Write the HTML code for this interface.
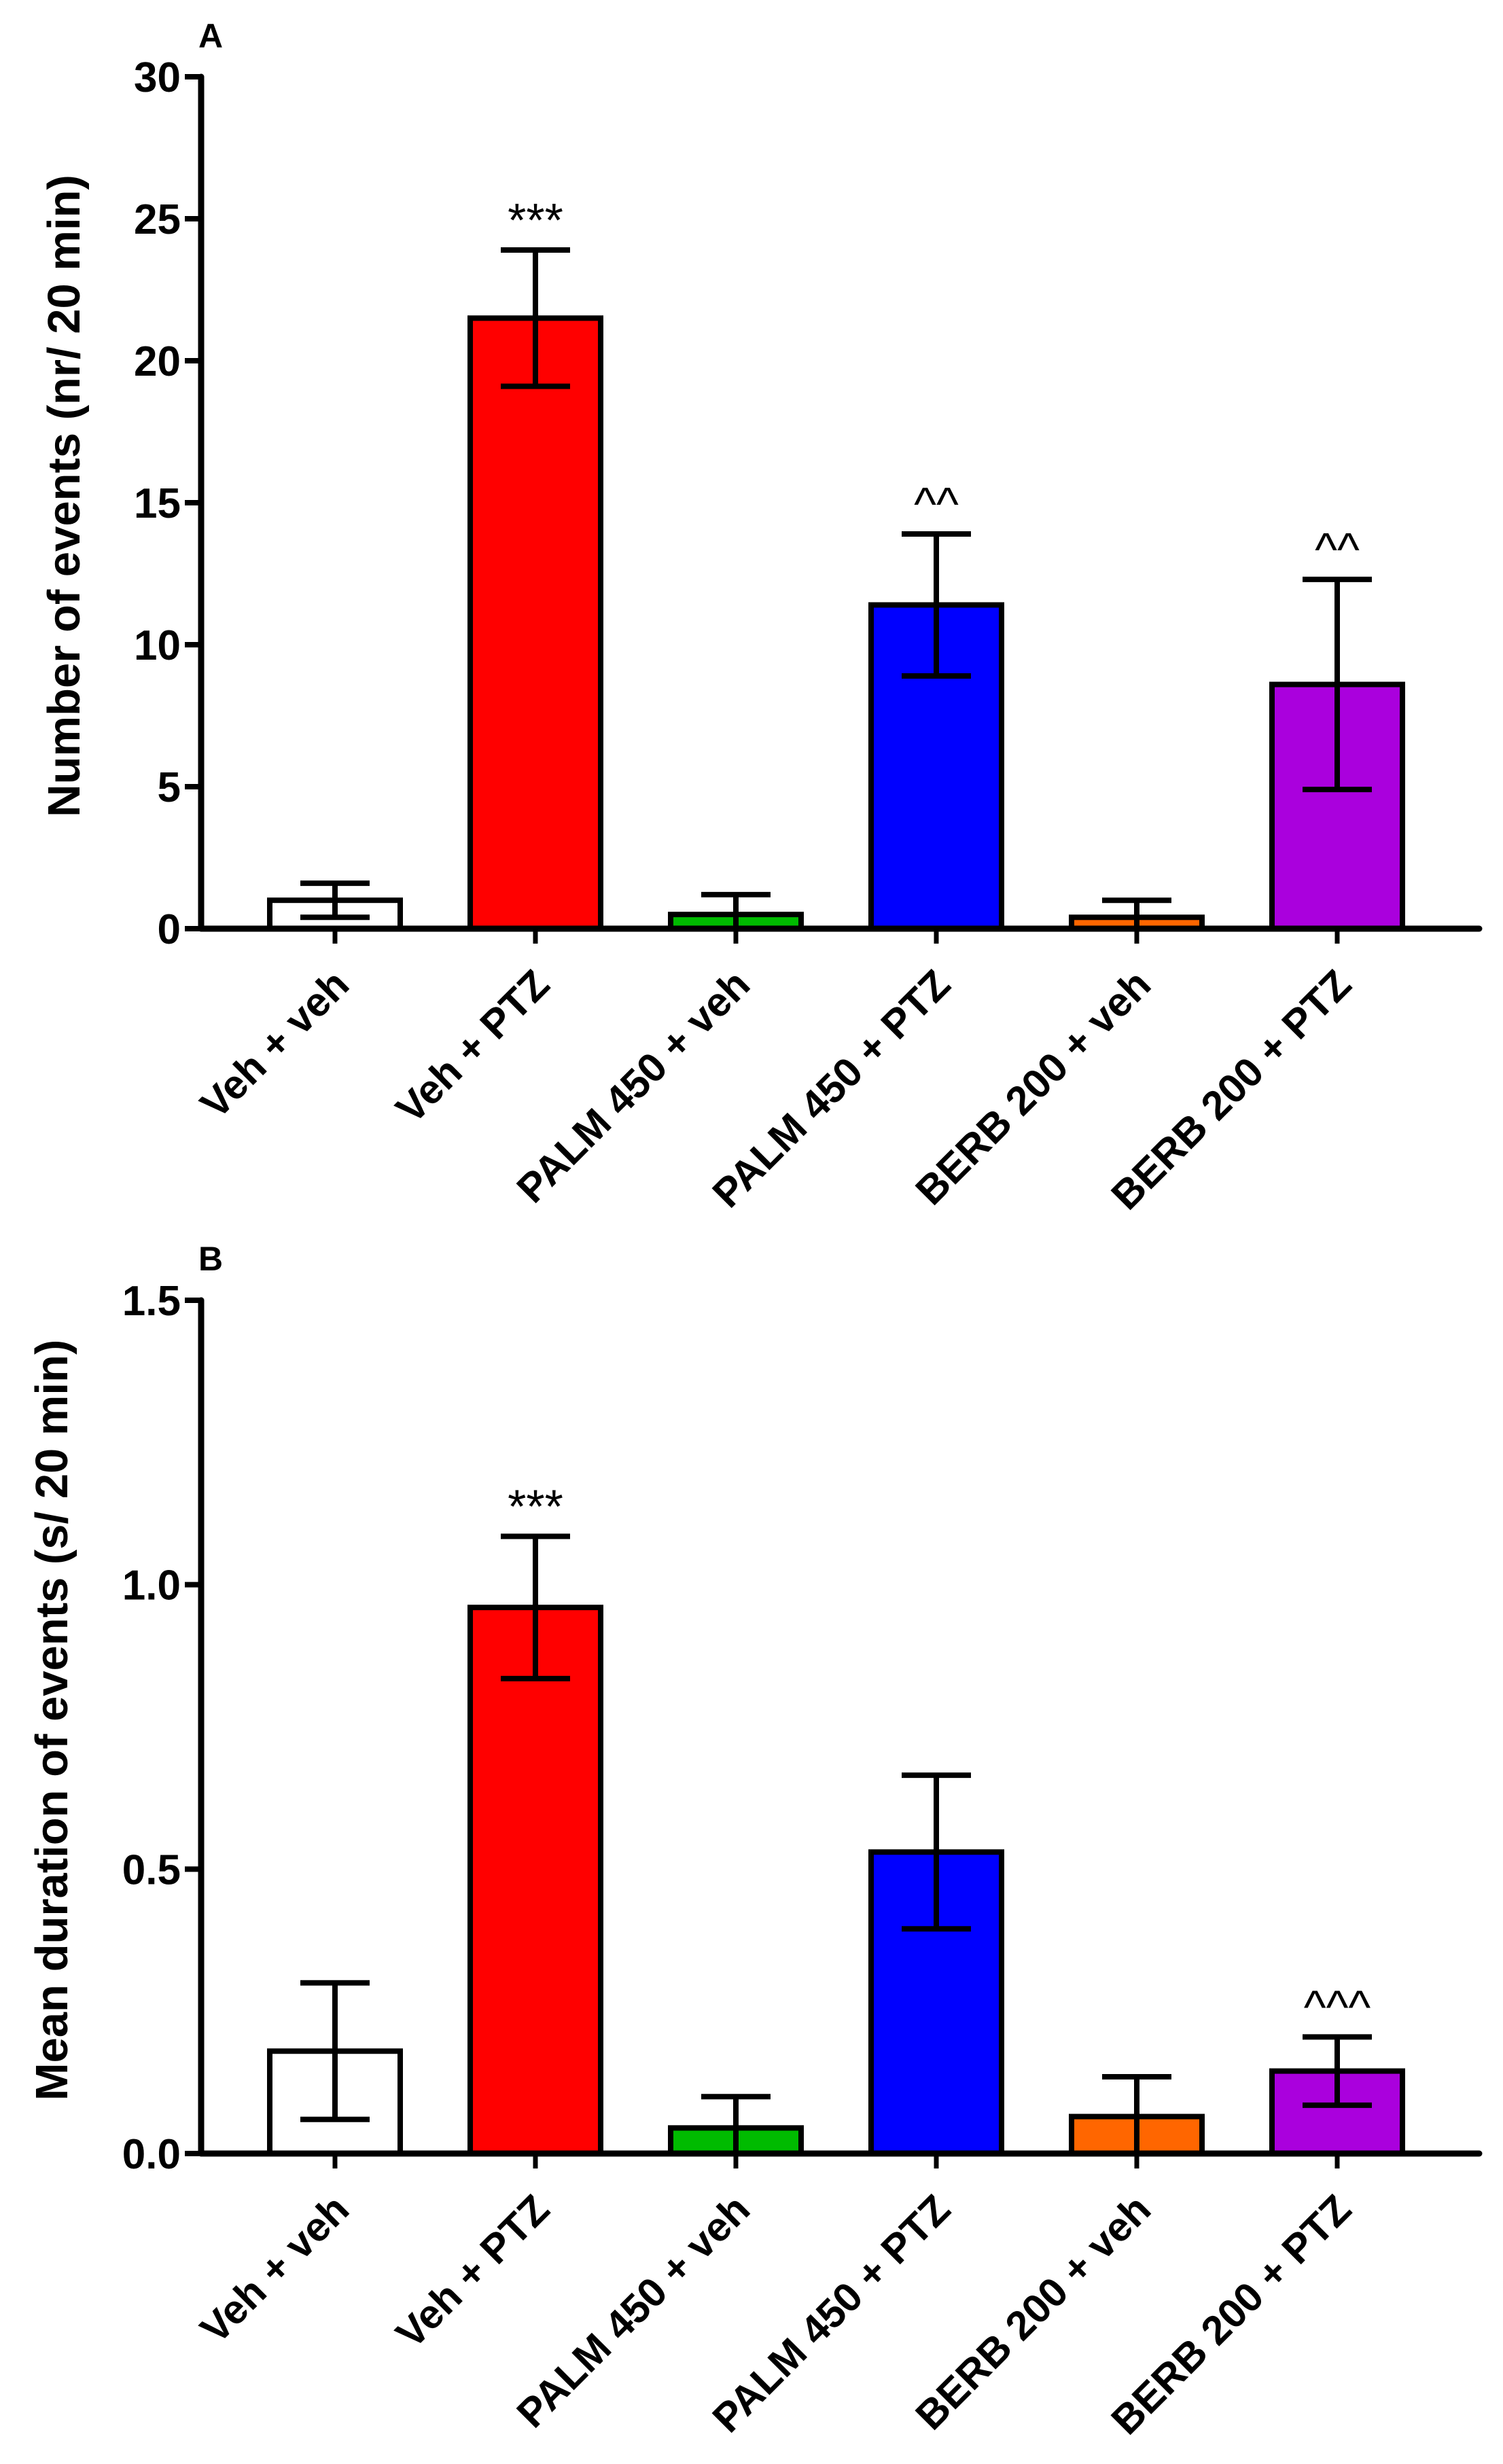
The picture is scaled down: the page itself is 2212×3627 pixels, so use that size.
<!DOCTYPE html>
<html><head><meta charset="utf-8"><style>
html,body{margin:0;padding:0;background:#fff;}
svg{display:block;font-family:"Liberation Sans",Arial,sans-serif;font-weight:bold;}
</style></head><body>
<svg id="chart" width="2212" height="3627" viewBox="0 0 2212 3627" xmlns="http://www.w3.org/2000/svg"></svg>
<script>
const categories = ["Veh + veh","Veh + PTZ","PALM 450 + veh","PALM 450 + PTZ","BERB 200 + veh","BERB 200 + PTZ"];
const colors = ["#ffffff","#ff0000","#00bb00","#0000ff","#ff6600","#aa00dd"];
const countMeans = [1.0, 21.5, 0.5, 11.4, 0.4, 8.6];
const countErr = [0.6, 2.4, 0.7, 2.5, 0.6, 3.7];
const countMarks = ["", "***", "", "^^", "", "^^"];
const countTicks = [0,5,10,15,20,25,30];
const countTickLabels = ["0","5","10","15","20","25","30"];
const durMeans = [0.18, 0.96, 0.045, 0.53, 0.065, 0.145];
const durErr = [0.12, 0.125, 0.055, 0.135, 0.07, 0.06];
const durMarks = ["", "***", "", "", "", "^^^"];
const durTicks = [0,0.5,1.0,1.5];
const durTickLabels = ["0.0","0.5","1.0","1.5"];

const NS = "http://www.w3.org/2000/svg";
const svg = document.getElementById("chart");
function mk(tag, attrs, parent){
  const e = document.createElementNS(NS, tag);
  for (const k in attrs) e.setAttribute(k, attrs[k]);
  (parent||svg).appendChild(e);
  return e;
}

function panel(p){
  const g = mk("g", {});
  
  
  const x0 = 296, xEnd = 2177, first = 493, step = 295, bw = 192, cap = 102;
  const yS = v => p.y0 - (v - 0) / p.max * (p.y0 - p.yTop);
  const xS = i => first + i * step;
  p.means.forEach((m,i)=>{
    const r = mk("rect", {x: xS(i)-bw/2, y: yS(m), width: bw, height: p.y0 - yS(m), fill: colors[i], stroke: "#000", "stroke-width": 8}, g);
    
    
    const lo = Math.max(0, m - p.err[i]), hi = m + p.err[i];
    const eb = mk("g", {stroke:"#000","stroke-width":8}, g);
    
    
    mk("line", {x1: xS(i), x2: xS(i), y1: yS(hi), y2: yS(lo)}, eb);
    mk("line", {x1: xS(i)-cap/2, x2: xS(i)+cap/2, y1: yS(hi), y2: yS(hi)}, eb);
    if (m - p.err[i] > 0) mk("line", {x1: xS(i)-cap/2, x2: xS(i)+cap/2, y1: yS(lo), y2: yS(lo)}, eb);
    if (p.marks[i]) {
      const t = mk("text", {x: xS(i), y: yS(hi) - 20, "text-anchor":"middle", "font-size": 70, "font-weight":"normal", fill:"#000"}, g);
      t.textContent = p.marks[i];
      
      
    }
    mk("line", {x1: xS(i), x2: xS(i), y1: p.y0, y2: p.y0 + 22, stroke:"#000","stroke-width":7}, g);
    const lx = xS(i) + 24, ly = p.y0 + 86;
    const lab = mk("text", {x: lx, y: ly, "text-anchor":"end", "font-size": 60, transform: `rotate(-45 ${lx} ${ly})`, fill:"#000"}, g);
    lab.textContent = categories[i];
    
    
  });
  const ax = mk("g", {stroke:"#000","stroke-width":9,"stroke-linecap":"round"}, g);
  
  
  mk("line", {x1:x0, x2:x0, y1:p.yTop, y2:p.y0}, ax);
  mk("line", {x1:x0, x2:xEnd, y1:p.y0, y2:p.y0}, ax);
  p.ticks.forEach((v,k)=>{
    mk("line", {x1:x0-24, x2:x0, y1:yS(v), y2:yS(v), stroke:"#000","stroke-width":8}, g);
    const t = mk("text", {x: x0-30, y: yS(v)+22, "text-anchor":"end", "font-size": 62, fill:"#000"}, g);
    t.textContent = p.tickLabels[k];
    
    
  });
  const yt = mk("text", {x: p.titleX, y: p.titleY, "text-anchor":"middle", "font-size": 67, transform:`rotate(-90 ${p.titleX} ${p.titleY})`, fill:"#000"}, g);
  yt.textContent = p.title;
  
  
  const pl = mk("text", {x: 310, y: p.letterY, "text-anchor":"middle", "font-size": 50, fill:"#000"}, g);
  pl.textContent = p.letter;
  
  
}

panel({name:"panel-a-count", means: countMeans, err: countErr, marks: countMarks, ticks: countTicks, tickLabels: countTickLabels, max: 30, yTop: 113, y0: 1367, title: "Number of events (nr/ 20 min)", titleX: 117, titleY: 730, letter: "A", letterY: 70});
panel({name:"panel-b-duration", means: durMeans, err: durErr, marks: durMarks, ticks: durTicks, tickLabels: durTickLabels, max: 1.5, yTop: 1914, y0: 3170, title: "Mean duration of events (s/ 20 min)", titleX: 99, titleY: 2532, letter: "B", letterY: 1870});
</script>
</body></html>
